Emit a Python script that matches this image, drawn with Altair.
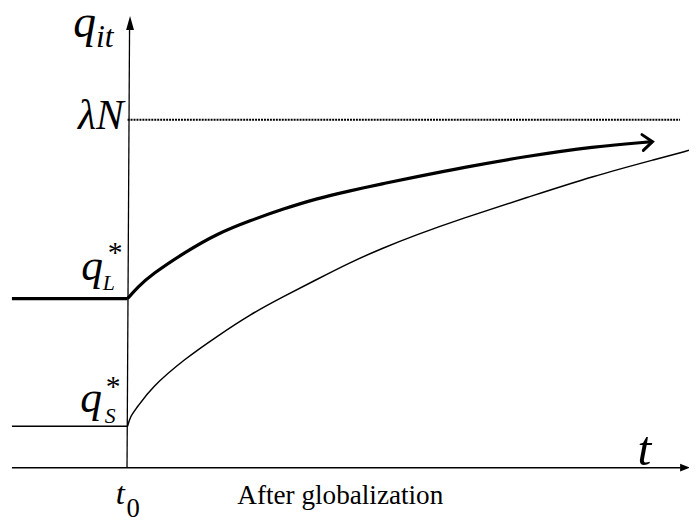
import altair as alt
import pandas as pd

# ---- scale extents (data units) ----
T_MIN, T_MAX = -2.13, 10.0
Q_MIN, Q_MAX = -1.5625, 13.125

# ---- key values ----
T_START = -2.06      # left end of the pre-globalization segments
T0 = 0.0             # globalization date t0
LAM_N = 10.0         # upper bound lambda*N
Q_L = 4.86           # q_L* (large firm)
Q_S = 1.19           # q_S* (small firm)
T_AXIS_END = 9.85
Q_AXIS_TOP = 12.6
T_DOT_END = 9.84

# ---- paths after globalization ----
tL_after = [0.0, 0.19, 0.42, 1.02, 1.60, 2.18, 2.78, 3.36, 3.94, 4.54, 5.12, 5.95, 7.11, 8.29, 9.35]
qL_after = [4.86, 5.20, 5.54, 6.19, 6.73, 7.10, 7.44, 7.73, 7.95, 8.16, 8.35, 8.62, 8.95, 9.23, 9.37]

tS_after = [0.0, 0.05, 0.16, 0.42, 1.02, 1.60, 2.18, 2.78, 3.36, 3.94, 4.54, 5.12, 5.95, 7.11, 8.29, 9.47, 10.0]
qS_after = [1.19, 1.48, 1.71, 2.30, 3.13, 3.78, 4.40, 4.92, 5.40, 5.88, 6.31, 6.68, 7.16, 7.76, 8.38, 8.89, 9.12]

FONT = "Times New Roman"

xs = alt.Scale(domain=[T_MIN, T_MAX], nice=False, zero=False)
ys = alt.Scale(domain=[Q_MIN, Q_MAX], nice=False, zero=False)
X = lambda f="t": alt.X(f"{f}:Q", scale=xs, axis=None)
Y = lambda f="q": alt.Y(f"{f}:Q", scale=ys, axis=None)

L_before = pd.DataFrame({"t": [T_START, T0], "q": [Q_L, Q_L]})
L_after = pd.DataFrame({"t": tL_after, "q": qL_after})
S_before = pd.DataFrame({"t": [T_START, T0], "q": [Q_S, Q_S]})
S_after = pd.DataFrame({"t": tS_after, "q": qS_after})


def path(df, width, interp):
    return alt.Chart(df).mark_line(
        color="black", strokeWidth=width, interpolate=interp, strokeCap="butt"
    ).encode(x=X(), y=Y(), order="t:Q")


line_L0 = path(L_before, 3.2, "linear")
line_L1 = path(L_after, 3.2, "basis")
line_S0 = path(S_before, 1.5, "linear")
line_S1 = path(S_after, 1.5, "basis")

# arrow head on the large-firm path (open chevron)
arrow_L = alt.Chart(pd.DataFrame({"t": [tL_after[-1]], "q": [qL_after[-1]]})).mark_point(
    shape="M-1,-0.8L0,0L-1,0.8", size=400, filled=False, stroke="black",
    strokeWidth=3, opacity=1, angle=355, strokeCap="round", strokeJoin="miter"
).encode(x=X(), y=Y())

# lambda N dotted line
dotted = alt.Chart(pd.DataFrame({"t": [T0], "t2": [T_DOT_END], "q": [LAM_N]})).mark_rule(
    color="black", strokeWidth=2, strokeDash=[2, 1]
).encode(x=X(), x2="t2:Q", y=Y())

# axes
x_axis = alt.Chart(pd.DataFrame({"t": [T_START], "t2": [T_AXIS_END], "q": [0.0]})).mark_rule(
    color="black", strokeWidth=1.5
).encode(x=X(), x2="t2:Q", y=Y())

y_axis = alt.Chart(pd.DataFrame({"t": [-0.01], "t2": [0.035], "q": [0.0], "q2": [Q_AXIS_TOP]})).mark_rule(
    color="black", strokeWidth=1.3
).encode(x=X(), x2="t2:Q", y=Y(), y2="q2:Q")

x_head = alt.Chart(pd.DataFrame({"t": [9.93], "q": [0.0]})).mark_point(
    shape="M1,0L-1,-0.8L-1,0.8Z", size=100, filled=True, color="black", opacity=1
).encode(x=X(), y=Y())

y_head = alt.Chart(pd.DataFrame({"t": [0.044], "q": [12.78]})).mark_point(
    shape="M0,-1L0.57,1L-0.57,1Z", size=196, filled=True, color="black", opacity=1
).encode(x=X(), y=Y())


def label(text, t, q, dx, dy, size, italic=True, align="left"):
    kw = dict(font=FONT, fontSize=size, align=align, baseline="alphabetic",
              dx=dx, dy=dy, color="black")
    if italic:
        kw["fontStyle"] = "italic"
    return alt.Chart(pd.DataFrame({"t": [t], "q": [q], "txt": [text]})).mark_text(**kw).encode(
        x=X(), y=Y(), text="txt:N")


labels = [
    label("q", T0, 12.78, -55, 14.5, 46),
    label("it", T0, 12.78, -32, 24.5, 32),
    label("\u03bbN", T0, LAM_N, -4, 9, 42, align="right"),
    label("q", T0, Q_L, -47, -18.5, 44),
    label("L", T0, Q_L, -25, -9, 22),
    label("*", T0, Q_L, -20, -37, 30, italic=False),
    label("q", T0, Q_S, -48, -14.5, 44),
    label("S", T0, Q_S, -23, -3, 22),
    label("*", T0, Q_S, -22, -31, 30, italic=False),
    label("t", T_MAX, 0.0, -52, -3, 50),
    label("t", T0, 0.0, -12, 37, 33),
    label("0", T0, 0.0, -1, 50, 27, italic=False),
    label("After globalization", T0, 0.0, 111, 37, 27.5, italic=False),
]

chart = alt.layer(
    dotted, x_axis, y_axis, x_head, y_head, line_S0, line_S1, line_L0, line_L1, arrow_L, *labels
).properties(
    width=689, height=517,
    autosize=alt.AutoSizeParams(type="none"),
    padding=0,
    background="white",
).configure_view(stroke=None)

chart.save("out.html", embed_options={"renderer": "svg", "actions": False})
